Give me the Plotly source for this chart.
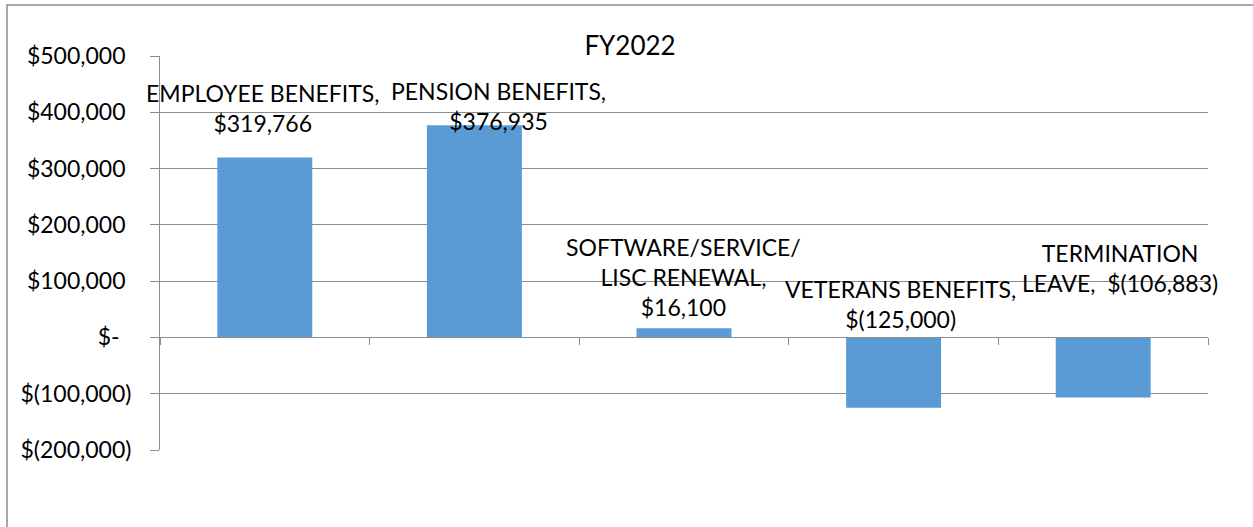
import plotly.graph_objects as go

# ---- data ----
categories = ["EMPLOYEE BENEFITS", "PENSION BENEFITS", "SOFTWARE/SERVICE/LISC RENEWAL",
              "VETERANS BENEFITS", "TERMINATION LEAVE"]
values = [319766, 376935, 16100, -125000, -106883]
label_lines = [
    ["EMPLOYEE BENEFITS,", "$319,766"],
    ["PENSION BENEFITS,", "$376,935"],
    ["SOFTWARE/SERVICE/", "LISC RENEWAL,", "$16,100"],
    ["VETERANS BENEFITS,", "$(125,000)"],
    ["TERMINATION", "LEAVE,\u00a0\u00a0$(106,883)"],
]
tick_vals = [500000, 400000, 300000, 200000, 100000, 0, -100000, -200000]
tick_text = ["$500,000", "$400,000", "$300,000", "$200,000", "$100,000", "$-",
             "$(100,000)", "$(200,000)"]
title_text = "FY2022"

# ---- style / placement (pixels) ----
label_xshift = [-2, 24, -1, 7, 17]
label_yshift = [49, 19, 51, 33, 69]
FONT = "Lato, 'Open Sans', sans-serif"
GRID = "#8c8c8c"
BAR = "#5b9bd5"

W, H = 1253, 527
ML, MR, MT, MB = 160, 45, 56, 77

def pad(t):
    if t == "$-":
        return t + "\u00a0" * 2
    if t.endswith(")"):
        return t
    return t + "\u00a0"

fig = go.Figure()
fig.add_trace(go.Bar(x=categories, y=values, marker=dict(color=BAR, line=dict(width=0)),
                     hoverinfo="skip"))

annotations = []
for i, (c, v) in enumerate(zip(categories, values)):
    annotations.append(dict(
        x=c, y=max(v, 0), xref="x", yref="y",
        text="<br>".join(label_lines[i]), showarrow=False,
        xanchor="center", yanchor="middle",
        xshift=label_xshift[i], yshift=label_yshift[i],
        font=dict(family=FONT, size=23, color="#000000"), align="center",
    ))

ymin, ymax = min(tick_vals), max(tick_vals)
zero_pos = (0 - ymin) / (ymax - ymin)
PW, PH = W - ML - MR, H - MT - MB

fig.update_layout(
    width=W, height=H,
    margin=dict(l=ML, r=MR, t=MT, b=MB, pad=0),
    paper_bgcolor="white", plot_bgcolor="white",
    showlegend=False,
    bargap=0.547,
    title=dict(text=title_text, x=630 / W, xref="container", xanchor="center",
               y=1 - 46 / H, yref="container", yanchor="middle",
               font=dict(family=FONT, size=26, color="#000000")),
    xaxis=dict(type="category", categoryorder="array", categoryarray=categories,
               range=[-0.5, len(categories) - 0.5],
               showgrid=False, zeroline=False, showticklabels=False,
               showline=True, linecolor=GRID, linewidth=1,
               ticks="outside", tickson="boundaries", ticklen=7, tickcolor=GRID, tickwidth=1,
               anchor="free", position=zero_pos),
    yaxis=dict(range=[ymin, ymax], tickvals=tick_vals, ticktext=[pad(t) for t in tick_text],
               showgrid=True, gridcolor=GRID, gridwidth=1, zeroline=False,
               showline=True, linecolor=GRID, linewidth=1,
               ticks="outside", ticklen=9, tickcolor=GRID, tickwidth=1,
               ticklabelstandoff=14,
               tickfont=dict(family=FONT, size=23, color="#000000")),
    annotations=annotations,
    shapes=[dict(type="rect", xref="paper", yref="paper",
                 x0=(7 - ML) / PW, x1=(W + 5 - ML) / PW,
                 y0=(H - MB - (H + 5)) / PH, y1=(H - MB - 5) / PH,
                 line=dict(color=GRID, width=1.5), fillcolor="rgba(0,0,0,0)", layer="below")],
)

fig.write_html("out.html", config={"displayModeBar": False},
               post_script="document.body.style.margin='0px';document.body.style.overflow='hidden';")
